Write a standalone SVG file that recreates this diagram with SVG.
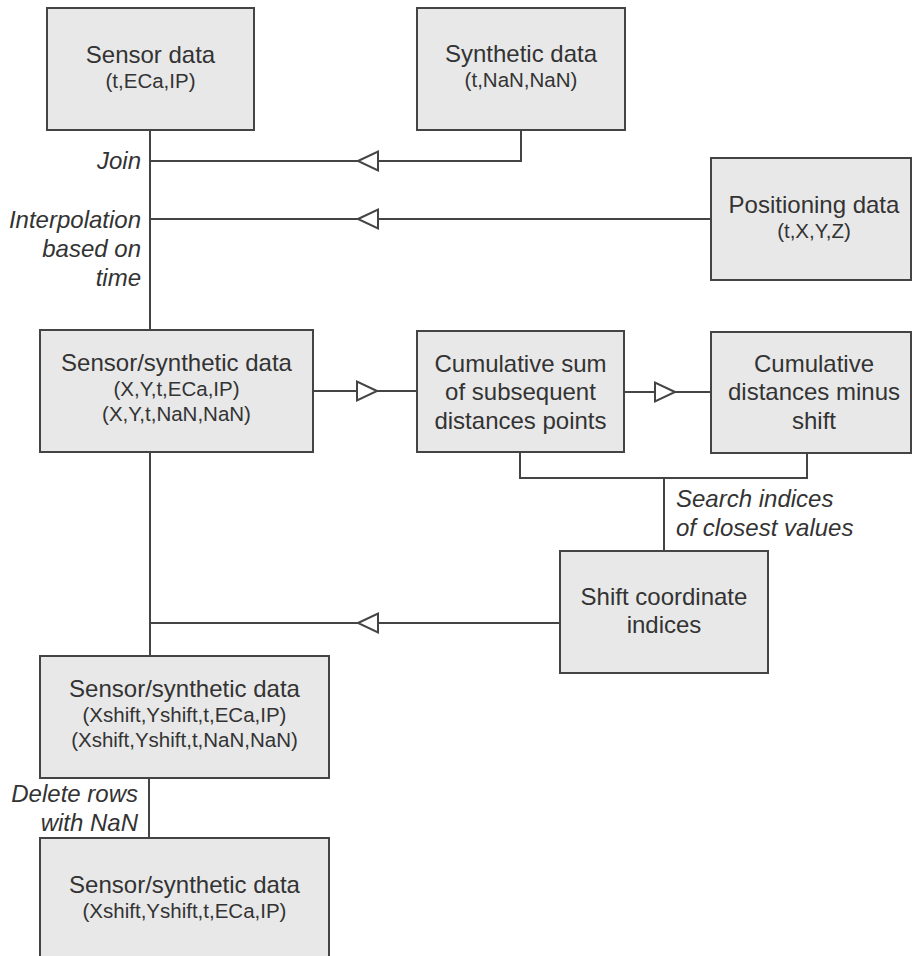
<svg xmlns="http://www.w3.org/2000/svg" width="913" height="956" viewBox="0 0 913 956">
<style>
.box{fill:#e8e8e8;stroke:#444;stroke-width:2}
.ln{fill:none;stroke:#444;stroke-width:2}
.t{font-family:"Liberation Sans",Arial,sans-serif;font-size:24px;fill:#333;text-anchor:middle}
.s{font-family:"Liberation Sans",Arial,sans-serif;font-size:20.5px;fill:#333;text-anchor:middle}
.lbl{font-family:"Liberation Sans",Arial,sans-serif;font-size:24px;font-style:italic;fill:#333}
.arr{fill:#fff;stroke:#444;stroke-width:2;stroke-linejoin:miter}
</style>
<defs>
<polygon id="triL" class="arr" points="0,0 20,-9.5 20,9.5"/>
<polygon id="triR" class="arr" points="0,0 -20,-9.5 -20,9.5"/>
</defs>
<rect width="913" height="956" fill="#fff"/>
<g id="connectors">
<path class="ln" d="M150 130 V330"/>
<path class="ln" d="M521 130 V161 H150"/>
<path class="ln" d="M711 219 H150"/>
<path class="ln" d="M313 391 H417"/>
<path class="ln" d="M624 392 H711"/>
<path class="ln" d="M520 452 V478 H807 V453"/>
<path class="ln" d="M664 478 V551"/>
<path class="ln" d="M560 623 H150"/>
<path class="ln" d="M150 452 V656"/>
<path class="ln" d="M149 778 V838"/>
<use href="#triL" x="358" y="161"/>
<use href="#triL" x="358" y="219"/>
<use href="#triR" x="377" y="391"/>
<use href="#triR" x="675" y="392"/>
<use href="#triL" x="358" y="623"/>
<text class="lbl" x="141" y="169" text-anchor="end">Join</text>
<text class="lbl" text-anchor="end"><tspan x="141" y="228">Interpolation</tspan><tspan x="141" y="257">based on</tspan><tspan x="141" y="286">time</tspan></text>
<text class="lbl"><tspan x="676" y="507">Search indices</tspan><tspan x="676" y="536">of closest values</tspan></text>
<text class="lbl" text-anchor="end"><tspan x="138" y="802">Delete rows</tspan><tspan x="138" y="831">with NaN</tspan></text>
</g>
<g id="sensor">
<rect class="box" x="47" y="8" width="207" height="122"/>
<text class="t" x="150.5" y="63">Sensor data</text>
<text class="s" x="150.5" y="88">(t,ECa,IP)</text>
</g>
<g id="synthetic">
<rect class="box" x="417" y="8" width="208" height="122"/>
<text class="t" x="521" y="62">Synthetic data</text>
<text class="s" x="521" y="87">(t,NaN,NaN)</text>
</g>
<g id="positioning">
<rect class="box" x="711" y="158" width="200" height="122"/>
<text class="t" x="814" y="213">Positioning data</text>
<text class="s" x="814" y="238">(t,X,Y,Z)</text>
</g>
<g id="merged">
<rect class="box" x="40" y="330" width="273" height="122"/>
<text class="t" x="176.5" y="371">Sensor/synthetic data</text>
<text class="s" x="176.5" y="396">(X,Y,t,ECa,IP)</text>
<text class="s" x="176.5" y="421">(X,Y,t,NaN,NaN)</text>
</g>
<g id="cumsum">
<rect class="box" x="417" y="331" width="207" height="121"/>
<text class="t" x="520.5" y="372">Cumulative sum</text>
<text class="t" x="520.5" y="400">of subsequent</text>
<text class="t" x="520.5" y="429">distances points</text>
</g>
<g id="cumdist">
<rect class="box" x="711" y="332" width="200" height="121"/>
<text class="t" x="814" y="372">Cumulative</text>
<text class="t" x="814" y="400">distances minus</text>
<text class="t" x="814" y="429">shift</text>
</g>
<g id="shift">
<rect class="box" x="560" y="551" width="208" height="122"/>
<text class="t" x="664" y="605">Shift coordinate</text>
<text class="t" x="664" y="633">indices</text>
</g>
<g id="shifted">
<rect class="box" x="40" y="656" width="289" height="122"/>
<text class="t" x="184.5" y="697">Sensor/synthetic data</text>
<text class="s" x="184.5" y="722">(Xshift,Yshift,t,ECa,IP)</text>
<text class="s" x="184.5" y="747">(Xshift,Yshift,t,NaN,NaN)</text>
</g>
<g id="final">
<rect class="box" x="40" y="838" width="289" height="130"/>
<text class="t" x="184.5" y="893">Sensor/synthetic data</text>
<text class="s" x="184.5" y="918">(Xshift,Yshift,t,ECa,IP)</text>
</g>
</svg>
